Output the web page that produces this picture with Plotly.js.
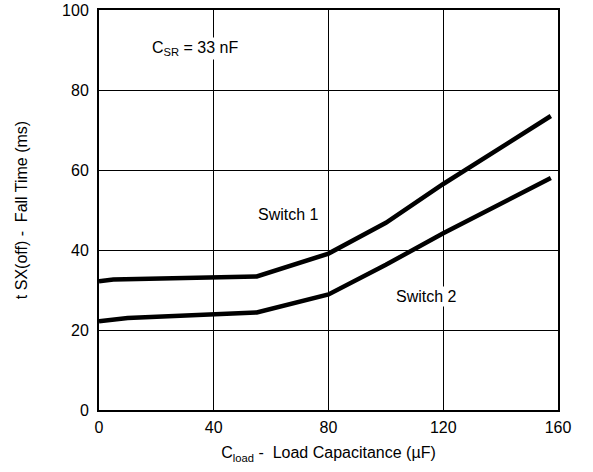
<!DOCTYPE html>
<html><head><meta charset="utf-8">
<script src="https://cdn.plot.ly/plotly-3.0.1.min.js"></script>
<style>html,body{margin:0;padding:0;background:#fff}#c{width:593px;height:472px}</style>
</head><body><div id="c"></div>
<script>
const sw1X = [0, 5, 55, 80, 100, 120, 157.5];
const sw1Y = [32.2, 32.6, 33.4, 39.1, 46.8, 56.5, 73.5];
const sw2X = [0, 10, 55, 80, 100, 120, 157.5];
const sw2Y = [22.2, 23.0, 24.4, 28.9, 36.3, 44.2, 58.0];
const xTicks = [0, 40, 80, 120, 160];
const yTicks = [0, 20, 40, 60, 80, 100];

const font = {family: 'Liberation Sans, Arial, sans-serif', size: 16, color: '#000'};
const lineStyle = {color: '#000', width: 4.5, shape: 'linear'};
const traces = [
  {x: sw1X, y: sw1Y, mode: 'lines', line: lineStyle, name: 'Switch 1', hoverinfo: 'skip'},
  {x: sw2X, y: sw2Y, mode: 'lines', line: lineStyle, name: 'Switch 2', hoverinfo: 'skip'}
];
const layout = {
  width: 593, height: 472,
  margin: {l: 99, r: 35, t: 10, b: 62},
  paper_bgcolor: '#fff', plot_bgcolor: '#fff',
  showlegend: false,
  font: font,
  xaxis: {
    range: [0, 160], tickvals: xTicks, ticks: '', showgrid: true, gridcolor: '#000', gridwidth: 1,
    showline: true, linecolor: '#000', linewidth: 2, mirror: true, zeroline: false,
    tickfont: font, ticklabelstandoff: 2,
    title: {text: 'C<sub>load</sub> -  Load Capacitance (µF)', font: font, standoff: 12}
  },
  yaxis: {
    range: [0, 100], tickvals: yTicks, ticks: '', showgrid: true, gridcolor: '#000', gridwidth: 1,
    showline: true, linecolor: '#000', linewidth: 2, mirror: true, zeroline: false,
    tickfont: font, ticklabelstandoff: 5,
    title: {text: 't SX(off) -  Fall Time (ms)', font: font, standoff: 30}
  },
  annotations: [
    {x: 33.5, y: 90.5, xref: 'x', yref: 'y', text: 'C<sub>SR</sub> = 33 nF', showarrow: false, font: font, bgcolor: '#fff'},
    {x: 66, y: 49, xref: 'x', yref: 'y', text: 'Switch 1', showarrow: false, font: font, bgcolor: '#fff'},
    {x: 114, y: 28.5, xref: 'x', yref: 'y', text: 'Switch 2', showarrow: false, font: font, bgcolor: '#fff'}
  ]
};
Plotly.newPlot('c', traces, layout, {displayModeBar: false, staticPlot: true});
</script></body></html>
